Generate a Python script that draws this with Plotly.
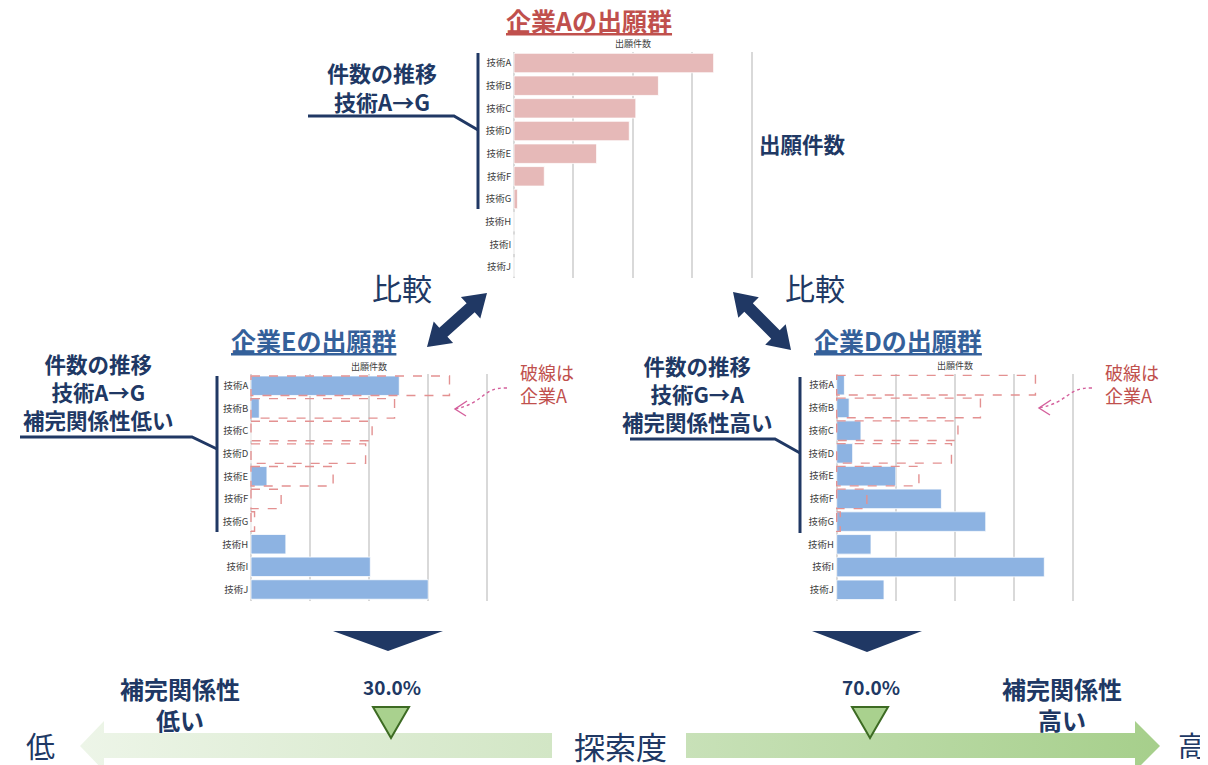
import math
import plotly.graph_objects as go

# ---------------- data ----------------
techs = ["技術A", "技術B", "技術C", "技術D", "技術E", "技術F", "技術G", "技術H", "技術I", "技術J"]
company_a = [336, 243, 205, 194, 139, 51, 6, 0, 0, 0]
company_e = [251, 14, 0, 0, 27, 0, 0, 59, 202, 300]
company_d = [13, 21, 41, 27, 100, 177, 252, 58, 351, 80]
explore_labels = ["30.0%", "70.0%"]
axis_title = "出願件数"

# page body has an 8px margin; figure is sized so that reference pixel coords map directly
OFF = 8
W, H = 1200, 757
FONT = "Noto Sans CJK JP"
NAVY = "#203864"
BLUE_T = "#34609a"
RED = "#c0504d"
PINK = "#e6b9b8"
BARBLUE = "#8db3e2"
DASH = "#e39191"
GRID = "#d9d9d9"

fig = go.Figure()

def dom_x(a, b):
    return [(a - OFF) / W, (b - OFF) / W]

def dom_y(top, bottom):
    return [1 - (bottom - OFF) / H, 1 - (top - OFF) / H]

ypos = list(range(len(techs)))
XMIN, XMAX, PAD = 0, 400, 3   # pad so that edge gridlines are drawn

# chart panels: (axis id, left, right, top, bottom, values, color)
panels = [
    ("", 514, 751.7, 51.7, 278.3, company_a, PINK),
    ("2", 251, 487.3, 374.4, 600.8, company_e, BARBLUE),
    ("3", 836.7, 1073.3, 373.8, 601.2, company_d, BARBLUE),
]

for sid, l, r, t, b, vals, col in panels:
    ppu = (r - l) / (XMAX - XMIN)
    fig.add_trace(go.Bar(
        x=vals, y=ypos, orientation="h", width=0.86,
        marker=dict(color=col, line=dict(color="white", width=0.8)),
        xaxis="x" + sid, yaxis="y" + sid, showlegend=False, hoverinfo="skip",
    ))
    fig.update_layout(**{
        "xaxis" + sid: dict(domain=dom_x(l - PAD * ppu, r + PAD * ppu),
                            range=[XMIN - PAD, XMAX + PAD], dtick=100, tick0=0,
                            showgrid=True, gridcolor=GRID, gridwidth=1.8,
                            showticklabels=False, zeroline=False, showline=False,
                            anchor="y" + sid, fixedrange=True),
        "yaxis" + sid: dict(domain=dom_y(t, b), range=[9.5, -0.5], tickvals=ypos,
                            ticktext=techs, tickfont=dict(size=9.5, color="#404040", family=FONT),
                            showgrid=False, zeroline=False, showline=False, ticks="",
                            anchor="x" + sid, fixedrange=True),
    })
    fig.add_annotation(x=(l + r) / 2, y=t - 8, xref="x4", yref="y4", text=axis_title,
                       showarrow=False, font=dict(size=9, color="#404040", family=FONT),
                       xanchor="center", yanchor="middle")

# dashed outlines of company A over E and D charts
for sid in ["2", "3"]:
    for i, v in enumerate(company_a):
        if v <= 0:
            continue
        fig.add_shape(type="rect", xref="x" + sid, yref="y" + sid,
                      x0=0, x1=max(v, 4), y0=i - 0.43, y1=i + 0.43,
                      line=dict(color=DASH, width=1.4, dash="dash"), layer="above")

# overlay axis in reference pixel coordinates
fig.update_layout(
    xaxis4=dict(domain=[0, 1], range=[OFF, OFF + W], visible=False, anchor="y4", fixedrange=True),
    yaxis4=dict(domain=[0, 1], range=[OFF + H, OFF], visible=False, anchor="x4", fixedrange=True),
)

def shape_path(d, fill=None, line=None, width=0, dash=None):
    fig.add_shape(type="path", path=d, xref="x4", yref="y4",
                  fillcolor=fill if fill else "rgba(0,0,0,0)",
                  line=dict(color=line if line else "rgba(0,0,0,0)", width=width, dash=dash),
                  layer="above")

def poly(pts):
    return "M " + " L ".join(f"{x:.1f},{y:.1f}" for x, y in pts) + " Z"

def line(pts, color=NAVY, width=3):
    d = "M " + " L ".join(f"{x:.1f},{y:.1f}" for x, y in pts)
    shape_path(d, line=color, width=width)

def dbl_arrow(x1, y1, x2, y2, sw=12, hw=29, hl=22):
    dx, dy = x2 - x1, y2 - y1
    L = math.hypot(dx, dy)
    ux, uy = dx / L, dy / L
    nx, ny = -uy, ux
    b1 = (x1 + ux * hl, y1 + uy * hl)
    b2 = (x2 - ux * hl, y2 - uy * hl)
    def off(p, k):
        return (p[0] + nx * k, p[1] + ny * k)
    pts = [(x1, y1), off(b1, hw / 2), off(b1, sw / 2), off(b2, sw / 2), off(b2, hw / 2),
           (x2, y2), off(b2, -hw / 2), off(b2, -sw / 2), off(b1, -sw / 2), off(b1, -hw / 2)]
    shape_path(poly(pts), fill=NAVY)

# leader lines / brackets
line([(308, 116), (454, 116), (478, 130)])
line([(478, 53), (478, 209)])
line([(20, 437), (192, 437), (217, 449)])
line([(217, 376), (217, 532)])
line([(630, 439), (775, 439), (800, 453)])
line([(800, 377), (800, 533)])

# double arrows
dbl_arrow(427, 347, 487, 293)
dbl_arrow(733, 292, 791, 350)

# dashed curved pointers
for sx, sy, tx, ty in [(507, 388, 455, 409), (1092, 388, 1039, 408)]:
    d = f"M {sx},{sy} C {sx-25},{sy-1} {sx-22},{ty-6} {tx},{ty}"
    shape_path(d, line="#d4609c", width=1.4, dash="dot")
    shape_path(f"M {tx+12},{ty-8} L {tx},{ty} L {tx+11},{ty+7}", line="#d4609c", width=1.4)

# gradient arrows at bottom
left_arrow = [(552, 733), (104, 733), (104, 721), (80, 746), (104, 771), (104, 758), (552, 758)]
right_arrow = [(686, 733), (1135, 733), (1135, 721), (1160, 746), (1135, 771), (1135, 758), (686, 758)]
for pts, cs in [(left_arrow, [[0, "#edf5e8"], [1, "#d2e6c5"]]),
                (right_arrow, [[0, "#c8e1b8"], [1, "#a6cf8b"]])]:
    xs = [p[0] for p in pts] + [pts[0][0]]
    ys = [p[1] for p in pts] + [pts[0][1]]
    fig.add_trace(go.Scatter(x=xs, y=ys, mode="lines", fill="toself",
                             fillgradient=dict(type="horizontal", colorscale=cs),
                             line=dict(width=0, color="rgba(0,0,0,0)"),
                             xaxis="x4", yaxis="y4", showlegend=False, hoverinfo="skip"))

# navy chevrons
shape_path(poly([(333, 631), (443, 631), (388, 651)]), fill=NAVY)
shape_path(poly([(812, 631), (922, 631), (867, 652)]), fill=NAVY)
# green markers
shape_path(poly([(373, 707), (409, 707), (391, 738)]), fill="#a9d18e", line="#3d6b23", width=2)
shape_path(poly([(852, 707), (888, 707), (870, 738)]), fill="#a9d18e", line="#3d6b23", width=2)

def text(x, y, s, size, color=NAVY, bold=True, xanchor="center"):
    fig.add_annotation(x=x, y=y, xref="x4", yref="y4", text=(f"<b>{s}</b>" if bold else s),
                       showarrow=False, xanchor=xanchor, yanchor="middle", align="center",
                       font=dict(size=size, color=color, family=FONT))

text(589, 20, "<u>企業Aの出願群</u>", 25, RED)
text(313, 340, "<u>企業Eの出願群</u>", 25, BLUE_T)
text(898, 340, "<u>企業Dの出願群</u>", 25, BLUE_T)
text(382, 86, "件数の推移<br>技術A→G", 22)
text(98, 391, "件数の推移<br>技術A→G<br>補完関係性低い", 21.5)
text(697, 393, "件数の推移<br>技術G→A<br>補完関係性高い", 21.5)
text(802, 143, "出願件数", 21.5)
text(402, 287, "比較", 30, bold=False)
text(815, 287, "比較", 30, bold=False)
for xl in [518, 1103]:
    fig.add_annotation(x=xl, y=383, xref="x4", yref="y4", text="破線は<br>企業A", showarrow=False,
                       xanchor="left", yanchor="middle", align="left",
                       font=dict(size=18, color=RED, family=FONT))
text(392, 686, explore_labels[0], 19)
text(871, 686, explore_labels[1], 19)
text(180, 704, "補完関係性<br>低い", 24)
text(1062, 704, "補完関係性<br>高い", 24)
text(40, 745, "低", 29, bold=False)
text(620, 745, "探索度", 31, bold=False)
text(1192, 745, "高", 28, bold=False)

fig.update_layout(width=W, height=H, margin=dict(l=0, r=0, t=0, b=0),
                  paper_bgcolor="white", plot_bgcolor="rgba(0,0,0,0)",
                  bargap=0.14, showlegend=False, font=dict(family=FONT))

fig.write_html("out.html")
